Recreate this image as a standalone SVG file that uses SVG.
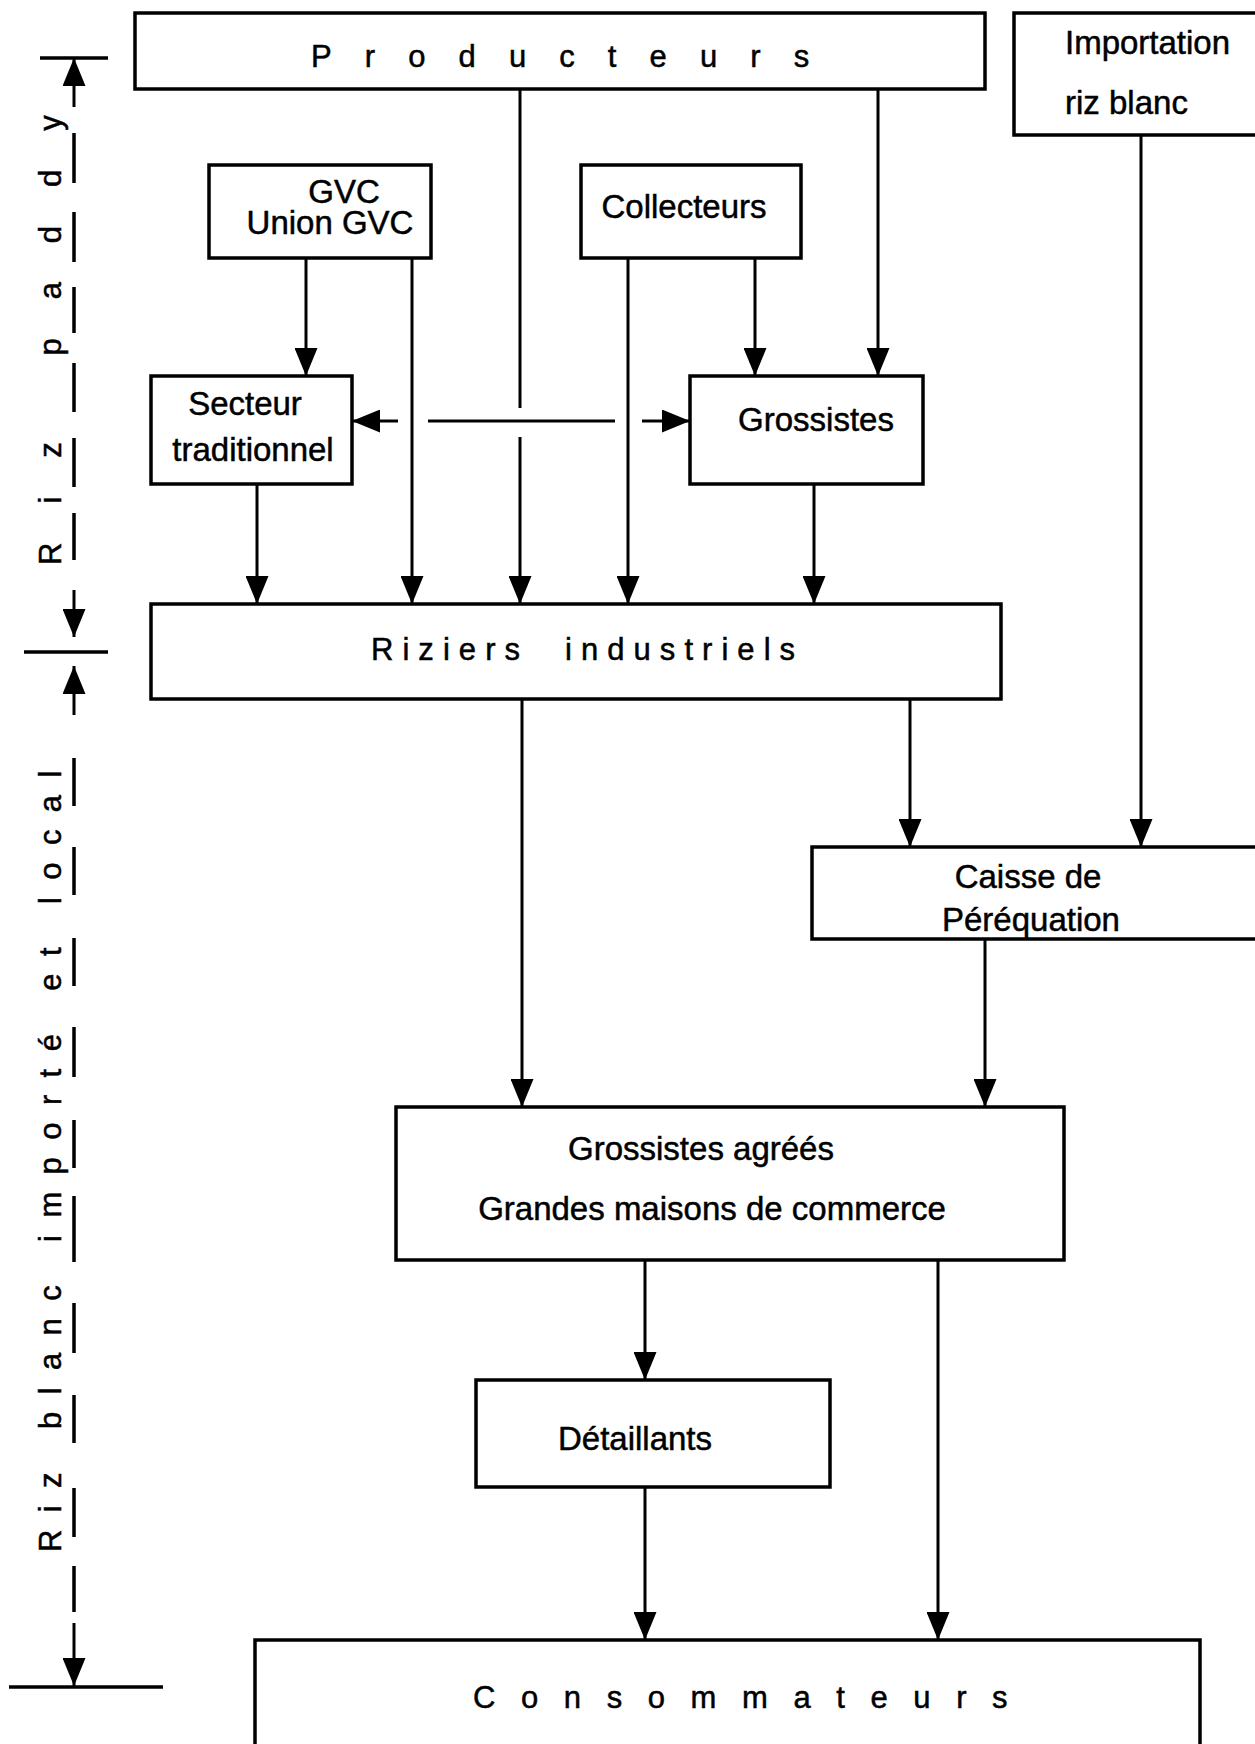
<svg xmlns="http://www.w3.org/2000/svg" width="1255" height="1744" viewBox="0 0 1255 1744">
<defs>
<style>
.box{fill:#fff;stroke:#000;stroke-width:3.5}
.lbl{font-family:"Liberation Sans",Arial,Helvetica,sans-serif;font-size:33px;fill:#000;stroke:#000;stroke-width:0.5}
.mid{text-anchor:middle}
.ttl{font-family:"Liberation Sans",Arial,Helvetica,sans-serif;font-size:31px;fill:#000;stroke:#000;stroke-width:0.5}
.side{font-family:"Liberation Sans",Arial,Helvetica,sans-serif;font-size:31px;fill:#000;stroke:#000;stroke-width:0.5}
.conn{stroke:#000;stroke-width:3;fill:none}
.dim{stroke:#000;stroke-width:3.5;fill:none}
</style>
<marker id="ah" markerUnits="userSpaceOnUse" markerWidth="28" markerHeight="23" refX="28" refY="11.5" orient="auto">
<path d="M0,0 L28,11.5 L0,23 z" fill="#000"/>
</marker>
</defs>
<rect width="1255" height="1744" fill="#fff"/>

<g id="connectors">
<line class="conn" x1="520" y1="89" x2="520" y2="408"/>
<line class="conn" x1="520" y1="437" x2="520" y2="604" marker-end="url(#ah)"/>
<line class="conn" x1="878" y1="89" x2="878" y2="376" marker-end="url(#ah)"/>
<line class="conn" x1="306" y1="258" x2="306" y2="376" marker-end="url(#ah)"/>
<line class="conn" x1="412" y1="258" x2="412" y2="604" marker-end="url(#ah)"/>
<line class="conn" x1="628" y1="258" x2="628" y2="604" marker-end="url(#ah)"/>
<line class="conn" x1="755" y1="258" x2="755" y2="376" marker-end="url(#ah)"/>
<line class="conn" x1="257" y1="484" x2="257" y2="604" marker-end="url(#ah)"/>
<line class="conn" x1="814" y1="484" x2="814" y2="604" marker-end="url(#ah)"/>
<line class="conn" x1="398" y1="421" x2="352" y2="421" marker-end="url(#ah)"/>
<line class="conn" x1="428" y1="421" x2="615" y2="421"/>
<line class="conn" x1="642" y1="421" x2="690" y2="421" marker-end="url(#ah)"/>
<line class="conn" x1="522" y1="699" x2="522" y2="1107" marker-end="url(#ah)"/>
<line class="conn" x1="910" y1="699" x2="910" y2="847" marker-end="url(#ah)"/>
<line class="conn" x1="1141" y1="135" x2="1141" y2="847" marker-end="url(#ah)"/>
<line class="conn" x1="985" y1="939" x2="985" y2="1107" marker-end="url(#ah)"/>
<line class="conn" x1="645" y1="1260" x2="645" y2="1380" marker-end="url(#ah)"/>
<line class="conn" x1="645" y1="1487" x2="645" y2="1640" marker-end="url(#ah)"/>
<line class="conn" x1="938" y1="1260" x2="938" y2="1640" marker-end="url(#ah)"/>
</g>

<g id="producteurs">
<rect class="box" x="135" y="13" width="850" height="76"/>
<text class="ttl" x="311" y="67" letter-spacing="33.1">Producteurs</text>
</g>
<g id="importation">
<rect class="box" x="1014" y="13" width="260" height="122"/>
<text class="lbl" x="1065" y="54">Importation</text>
<text class="lbl" x="1065" y="114">riz blanc</text>
</g>
<g id="gvc">
<rect class="box" x="209" y="165" width="222" height="93"/>
<text class="lbl mid" x="344" y="203">GVC</text>
<text class="lbl mid" x="330" y="234">Union GVC</text>
</g>
<g id="collecteurs">
<rect class="box" x="581" y="165" width="220" height="93"/>
<text class="lbl mid" x="684" y="218">Collecteurs</text>
</g>
<g id="secteur-traditionnel">
<rect class="box" x="151" y="376" width="201" height="108"/>
<text class="lbl mid" x="245" y="415">Secteur</text>
<text class="lbl mid" x="253" y="461">traditionnel</text>
</g>
<g id="grossistes">
<rect class="box" x="690" y="376" width="233" height="108"/>
<text class="lbl mid" x="816" y="431">Grossistes</text>
</g>
<g id="riziers">
<rect class="box" x="151" y="604" width="850" height="95"/>
<text class="ttl" x="371" y="660" letter-spacing="9.05" word-spacing="18.3">Riziers industriels</text>
</g>
<g id="caisse">
<rect class="box" x="812" y="847" width="460" height="92"/>
<text class="lbl mid" x="1028" y="888">Caisse de</text>
<text class="lbl mid" x="1031" y="931">Péréquation</text>
</g>
<g id="grossistes-agrees">
<rect class="box" x="396" y="1107" width="668" height="153"/>
<text class="lbl mid" x="701" y="1160">Grossistes agréés</text>
<text class="lbl mid" x="712" y="1220">Grandes maisons de commerce</text>
</g>
<g id="detaillants">
<rect class="box" x="476" y="1380" width="354" height="107"/>
<text class="lbl mid" x="635" y="1450">Détaillants</text>
</g>
<g id="consommateurs">
<rect class="box" x="255" y="1640" width="945" height="112"/>
<text class="ttl" x="473" y="1708" letter-spacing="25.6">Consommateurs</text>
</g>

<g id="side-scale">
<line class="dim" x1="40" y1="58" x2="108" y2="58"/>
<line class="dim" x1="24" y1="652" x2="108" y2="652"/>
<line class="dim" x1="9" y1="1687" x2="163" y2="1687"/>
<line class="conn" x1="74" y1="107" x2="74" y2="58" marker-end="url(#ah)"/>
<path class="dim" d="M74,133V183M74,212V262M74,287V333M74,363V412M74,438V487M74,513V560"/>
<line class="conn" x1="74" y1="590" x2="74" y2="637" marker-end="url(#ah)"/>
<line class="conn" x1="74" y1="715" x2="74" y2="666" marker-end="url(#ah)"/>
<path class="dim" d="M74,758V806M74,847V895M74,938V986M74,1027V1077M74,1120V1168M74,1196V1262M74,1303V1353M74,1395V1443M74,1488V1537M74,1566V1612"/>
<line class="conn" x1="74" y1="1623" x2="74" y2="1686" marker-end="url(#ah)"/>
<text class="side" transform="rotate(-90)" x="-565" y="61" letter-spacing="39">Riz paddy</text>
<text class="side" transform="rotate(-90)" x="-1552" y="61" letter-spacing="17.4">Riz blanc importé et local</text>
</g>
</svg>
